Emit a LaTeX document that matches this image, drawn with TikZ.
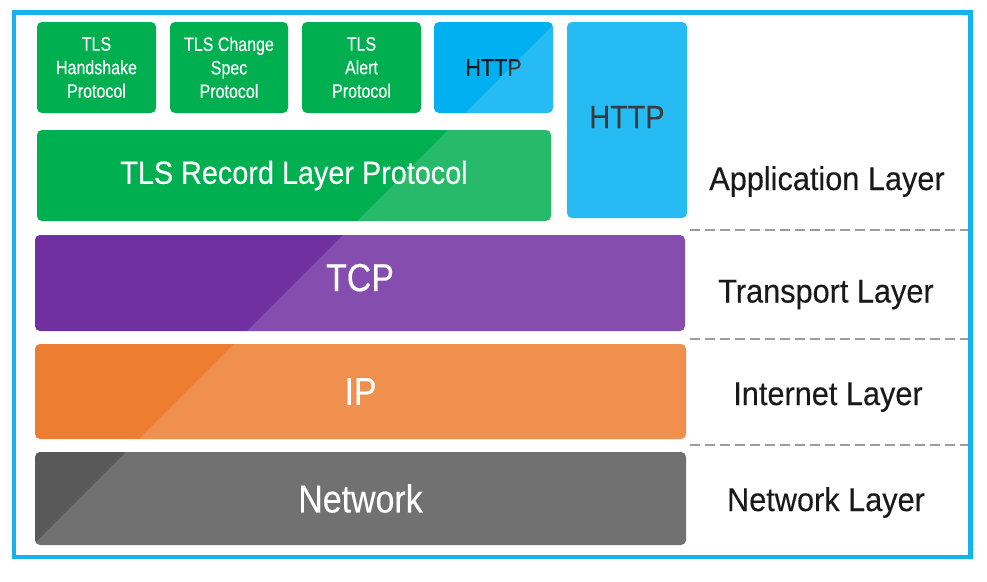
\documentclass[tikz,border=0pt]{standalone}
\usepackage{fontspec}
\setmainfont{Liberation Sans}
\newfontfamily\fsmall[FakeStretch=0.82,FakeBold=0.25]{Liberation Sans}
\newfontfamily\fmid[FakeStretch=0.9,FakeBold=0.25]{Liberation Sans}
\newfontfamily\fbar[FakeStretch=0.87,FakeBold=0.3]{Liberation Sans}
\newfontfamily\flay[FakeStretch=0.93,FakeBold=0.25]{Liberation Sans}
\definecolor{tlsgreen}{HTML}{00AF50}
\definecolor{httpblue}{HTML}{00B0F0}
\definecolor{tcppurple}{HTML}{7030A0}
\definecolor{iporange}{HTML}{ED7D31}
\definecolor{netgray}{HTML}{595959}
\definecolor{framecyan}{HTML}{16B2F0}
\definecolor{dashgray}{HTML}{9C9C9C}
\tikzset{
  box/.style={rectangle, rounded corners=5pt, inner sep=0pt, align=center},
  smallbox/.style={box, minimum width=119pt, minimum height=91pt, fill=tlsgreen, text=white,
     font=\fsmall\fontsize{19.5}{23.5}\selectfont},
  barbox/.style={box, text=white, font=\fbar\fontsize{39}{44}\selectfont},
  layertext/.style={anchor=base, inner sep=0pt, text=black!90, font=\flay\fontsize{33}{38}\selectfont},
  sep/.style={dashgray, line width=1.8pt, dash pattern=on 10pt off 5pt},
  frame/.style={framecyan, line width=4.5pt},
  hilite/.style={white, opacity=0.15}
}
\begin{document}
\begin{tikzpicture}[x=1pt,y=-1pt]
\useasboundingbox (0,0) rectangle (987,581);
\fill[white] (0,0) rectangle (987,581);
% top row
\node[smallbox] (hs) at (96.5,67.5) {TLS\\Handshake\\Protocol};
\node[smallbox, minimum width=118pt] (cs) at (229,67.5) {TLS Change\\Spec\\Protocol};
\node[smallbox] (al) at (361.5,67.5) {TLS\\Alert\\Protocol};
\node[box, minimum width=119pt, minimum height=91pt, fill=httpblue, text=black!90,
      font=\fmid\fontsize{24}{28}\selectfont] (http1) at (493.5,67.5) {HTTP};
\node[box, minimum width=120pt, minimum height=196pt, fill=httpblue, text=black!90,
      font=\fmid\fontsize{32}{36}\selectfont, text depth=6pt] (http2) at (627,120) {HTTP};
\node[box, minimum width=514pt, minimum height=91pt, fill=tlsgreen, text=white,
      font=\fmid\fontsize{32}{36}\selectfont] (rec) at (294,175.5) {TLS Record Layer Protocol};
% bars
\node[barbox, minimum width=650pt, minimum height=96pt, fill=tcppurple, text depth=11pt] (tcp) at (360,283) {TCP};
\node[barbox, minimum width=651pt, minimum height=95pt, fill=iporange] (ip) at (360.5,391.5) {IP};
\node[barbox, minimum width=651pt, minimum height=93pt, fill=netgray] (net) at (360.5,498.5) {Network};
% diagonal highlight
\foreach \b in {hs,cs,al,http1,http2,rec,tcp,ip,net}{
  \begin{scope}
    \clip[rounded corners=5pt] (\b.south west) rectangle (\b.north east);
    \fill[hilite] (578,0) -- (1000,0) -- (1000,600) -- (0,600) -- (0,578) -- cycle;
  \end{scope}
}
% separators
\draw[sep] (690,230) -- (970,230);
\draw[sep] (690,339) -- (970,339);
\draw[sep] (690,445) -- (970,445);
% layer labels
\node[layertext] (lapp) at (827,190) {Application Layer};
\node[layertext] (ltra) at (826,302.5) {Transport Layer};
\node[layertext] (lint) at (828,405) {Internet Layer};
\node[layertext] (lnet) at (826,511) {Network Layer};
% frame
\draw[frame] (14,12.5) rectangle (970.5,557);
\end{tikzpicture}
\end{document}
